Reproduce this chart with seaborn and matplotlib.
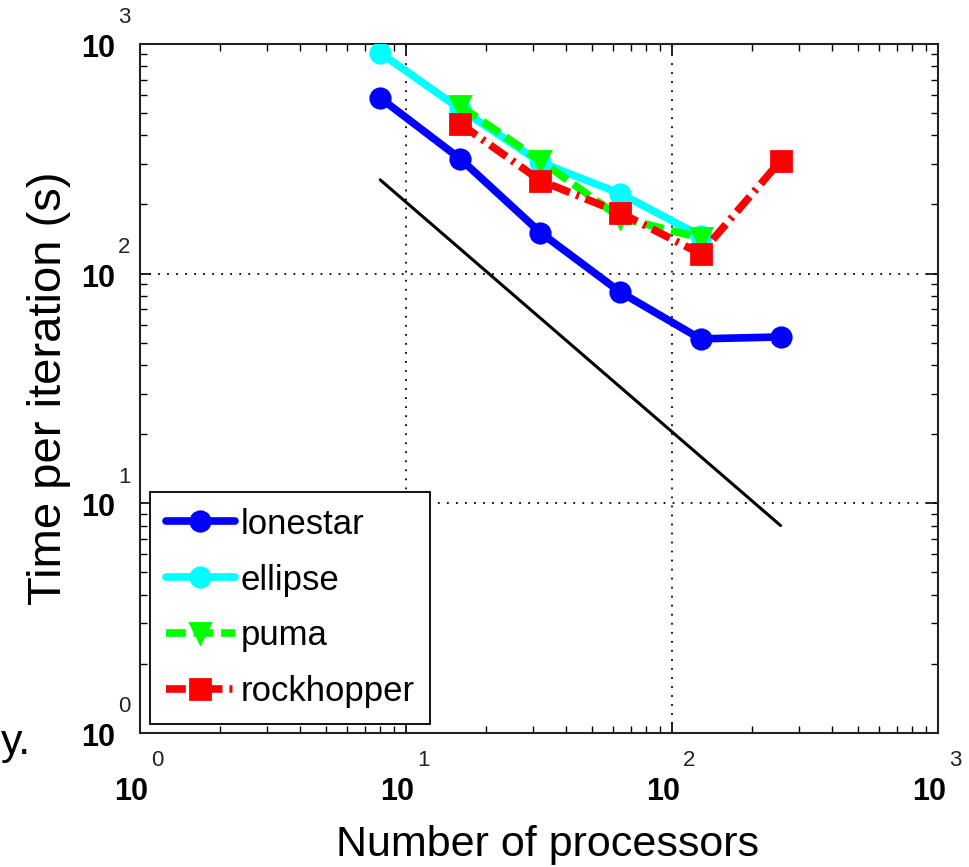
import matplotlib
matplotlib.use("Agg")
import matplotlib.pyplot as plt
import matplotlib.transforms as mtransforms
import numpy as np
import pandas as pd
import seaborn as sns

# Timing per iteration against processor count on four machines
procs_lonestar = [8, 16, 32, 64, 128, 256]
time_lonestar = [582, 316, 151, 83, 52, 53]

procs_ellipse = [8, 16, 32, 64, 128]
time_ellipse = [914, 520, 305, 223, 146]

procs_puma = [16, 32, 64, 128]
time_puma = [537, 310, 175, 143]

procs_rockhopper = [16, 32, 64, 128, 256]
time_rockhopper = [449, 254, 184, 122, 310]

# ideal linear-scaling reference
procs_ideal = [8, 256]
time_ideal = [256, 8]

machines = ["lonestar", "ellipse", "puma", "rockhopper"]
colors = {"lonestar": "#0000ff", "ellipse": "#00ffff",
          "puma": "#00ff00", "rockhopper": "#ff0000"}
markers = {"lonestar": "o", "ellipse": "o", "puma": "v", "rockhopper": "s"}
dashes = {"lonestar": "", "ellipse": "", "puma": (2.6, 1.0),
          "rockhopper": (2.6, 0.9, 0.4, 0.9)}

xticks = [1, 10, 100, 1000]
yticks = [1, 10, 100, 1000]
xtick_exps = ["0", "1", "2", "3"]
ytick_exps = ["0", "1", "2", "3"]

frames = []
for name, xs, ys in [("lonestar", procs_lonestar, time_lonestar),
                     ("ellipse", procs_ellipse, time_ellipse),
                     ("puma", procs_puma, time_puma),
                     ("rockhopper", procs_rockhopper, time_rockhopper)]:
    frames.append(pd.DataFrame({"procs": xs, "time": ys, "machine": name}))
df = pd.concat(frames, ignore_index=True)

sns.set_theme(style="white")
plt.rcParams["font.family"] = ["Liberation Sans", "DejaVu Sans"]
plt.rcParams["text.color"] = "black"
plt.rcParams["axes.labelcolor"] = "black"

fig = plt.figure(figsize=(9.69, 8.67), dpi=100)
ax = fig.add_axes([0.1445, 0.1546, 0.8235, 0.7947])
ax.set_xscale("log")
ax.set_yscale("log")

sns.lineplot(x=procs_ideal, y=time_ideal, ax=ax, color="black",
             linewidth=2.2, legend=False, zorder=2)

sns.lineplot(data=df, x="procs", y="time", hue="machine", style="machine",
             hue_order=machines, style_order=machines, palette=colors,
             markers=markers, dashes=dashes, linewidth=5.5, markersize=14,
             markeredgewidth=2, sort=False, ax=ax, zorder=3)

# solid markers: edge in the line's own colour
for ln in ax.lines:
    ln.set_markeredgecolor(ln.get_color())

ax.set_xlim(1, 1000)
ax.set_ylim(1, 1000)

# boxed axes: ticks inside on all sides, dotted major grid
ax.set_xticks(xticks)
ax.set_yticks(yticks)
ax.set_xticklabels([])
ax.set_yticklabels([])
ax.tick_params(which="both", direction="in", top=True, right=True,
               bottom=True, left=True, color="black")
ax.tick_params(which="major", length=8, width=1.2)
ax.tick_params(which="minor", length=5, width=1.0)
ax.xaxis.set_minor_locator(matplotlib.ticker.LogLocator(base=10, subs=np.arange(2, 10)))
ax.yaxis.set_minor_locator(matplotlib.ticker.LogLocator(base=10, subs=np.arange(2, 10)))
ax.xaxis.set_minor_formatter(matplotlib.ticker.NullFormatter())
ax.yaxis.set_minor_formatter(matplotlib.ticker.NullFormatter())
ax.grid(True, which="major", linestyle=(0, (1, 4)), color="black", linewidth=1.3)
ax.grid(False, which="minor")
for sp in ax.spines.values():
    sp.set_color("#222222")
    sp.set_linewidth(1.5)

# tick labels as "10" with the exponent set above and to the right
xt = mtransforms.blended_transform_factory(ax.transData, ax.transAxes)
yt = mtransforms.blended_transform_factory(ax.transAxes, ax.transData)
for v, e in zip(xticks, xtick_exps):
    ax.text(v, 0, "10", transform=mtransforms.offset_copy(xt, fig=fig, x=-9, y=-59, units="dots"),
            ha="center", va="center", fontsize=22, fontweight="bold", clip_on=False)
    ax.text(v, 0, e, transform=mtransforms.offset_copy(xt, fig=fig, x=17, y=-28, units="dots"),
            ha="center", va="center", fontsize=16, color="#222222", clip_on=False)
for v, e in zip(yticks, ytick_exps):
    ax.text(0, v, "10", transform=mtransforms.offset_copy(yt, fig=fig, x=-42, y=-5, units="dots"),
            ha="center", va="center", fontsize=22, fontweight="bold", clip_on=False)
    ax.text(0, v, e, transform=mtransforms.offset_copy(yt, fig=fig, x=-16, y=26, units="dots"),
            ha="center", va="center", fontsize=16, color="#222222", clip_on=False)

ax.set_xlabel("Number of processors", fontsize=31)
ax.xaxis.set_label_coords(0.511, -0.133)
ax.xaxis.label.set_va("top")
ax.set_ylabel("Time per iteration (s)", fontsize=34)
ax.yaxis.set_label_coords(-0.087, 0.5)

leg = ax.legend(loc="lower left", bbox_to_anchor=(0.0125, 0.013), fontsize=25,
                frameon=True, fancybox=False, edgecolor="black", framealpha=1,
                handlelength=2.0, handletextpad=0.15, labelspacing=0.66,
                borderpad=0.45, borderaxespad=0)
leg.get_frame().set_linewidth(1.3)
for h in leg.legend_handles:
    h.set_markeredgecolor(h.get_color())

fig.text(1 / 969, 1 - 743 / 867, "y.", fontsize=31, ha="left", va="center")

fig.savefig("out.png", dpi=100)
